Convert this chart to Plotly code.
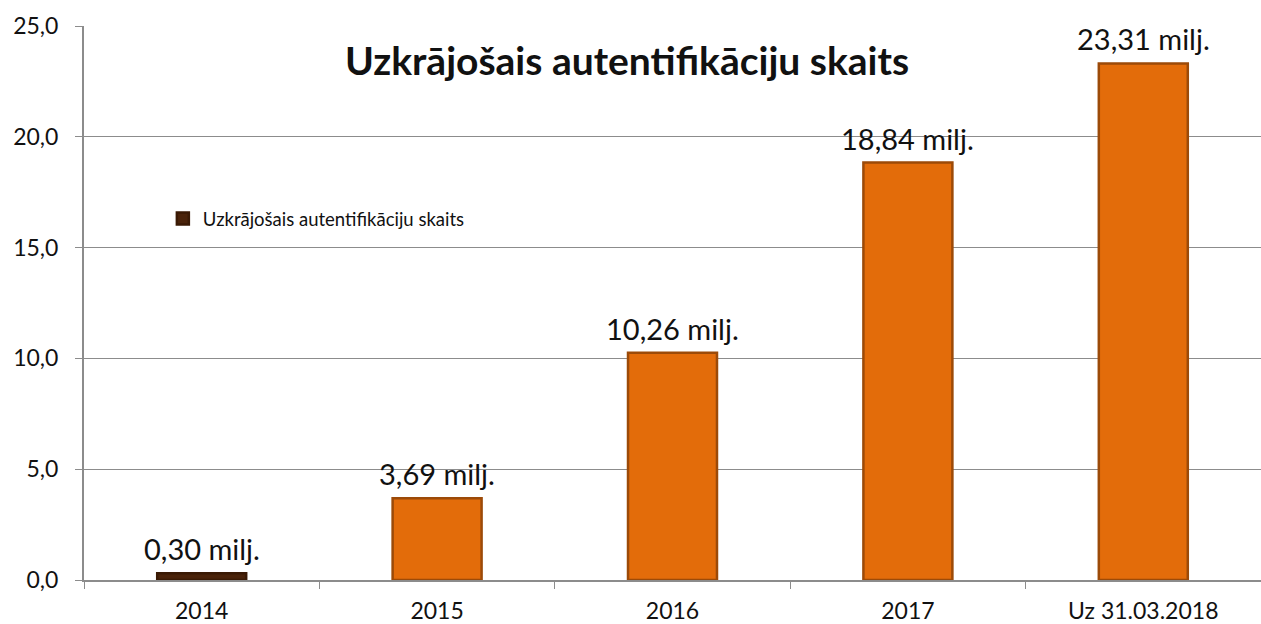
import plotly.graph_objects as go

categories = ["2014", "2015", "2016", "2017", "Uz 31.03.2018"]
values = [0.30, 3.69, 10.26, 18.84, 23.31]
labels = ["0,30 milj.", "3,69 milj.", "10,26 milj.", "18,84 milj.", "23,31 milj."]
bar_colors = ["#4A230A", "#E36C0A", "#E36C0A", "#E36C0A", "#E36C0A"]
line_colors = ["#3a1a05", "#9C4A08", "#9C4A08", "#9C4A08", "#9C4A08"]
series_name = "Uzkrājošais autentifikāciju skaits"
title = "Uzkrājošais autentifikāciju skaits"

FONT = "Lato, Carlito, Calibri, sans-serif"

pos = list(range(len(categories)))
bounds = [p - 0.5 for p in pos] + [pos[-1] + 0.5]

fig = go.Figure()
fig.add_trace(go.Bar(
    x=pos, y=values, name=series_name, width=0.378,
    marker=dict(color=bar_colors, line=dict(color=line_colors, width=2.5)),
    showlegend=True,
))

for p, v, t in zip(pos, values, labels):
    fig.add_annotation(x=p, y=v, xref="x", yref="y", text=t, showarrow=False, yanchor="bottom",
                       yshift=5, font=dict(size=29, color="#111111", family=FONT))

fig.add_annotation(xref="paper", yref="paper", x=(626.5 - 84) / 1177, y=(580 - 60) / 554,
                   text="<b>" + title + "</b>",
                   showarrow=False, font=dict(size=39, color="#111111", family=FONT),
                   xanchor="center", yanchor="middle")

fig.update_layout(
    width=1261, height=624,
    margin=dict(l=84, r=0, t=26, b=44),
    paper_bgcolor="white", plot_bgcolor="white",
    separators=",.",
    font=dict(family=FONT, color="#111111"),
    legend=dict(x=0.067, y=(580 - 219) / 554, xanchor="left", yanchor="middle",
                font=dict(size=18.5, family=FONT, color="#111111"),
                bgcolor="rgba(0,0,0,0)", itemwidth=30),
)
fig.update_yaxes(range=[0, 25], dtick=5, tickformat=".1f",
                 showgrid=True, gridcolor="#8c8c8c", gridwidth=1.3,
                 showline=True, linecolor="#8c8c8c", linewidth=2,
                 ticks="outside", ticklen=7, tickcolor="#8c8c8c",
                 ticklabelstandoff=12,
                 tickfont=dict(size=23, family=FONT, color="#111111"),
                 zeroline=False)
fig.update_xaxes(range=[bounds[0], bounds[-1]], tickmode="array", tickvals=pos, ticktext=categories,
                 showgrid=False, zeroline=False,
                 showline=True, linecolor="#8c8c8c", linewidth=2,
                 ticks="", tickangle=0, ticklabelstandoff=9,
                 minor=dict(tickmode="array", tickvals=bounds, ticks="outside", ticklen=7,
                            tickcolor="#8c8c8c", showgrid=False),
                 tickfont=dict(size=23, family=FONT, color="#111111"))

fig.write_html("out.html", config={"displayModeBar": False},
               post_script="document.body.style.margin='0';document.body.style.overflow='hidden';")
